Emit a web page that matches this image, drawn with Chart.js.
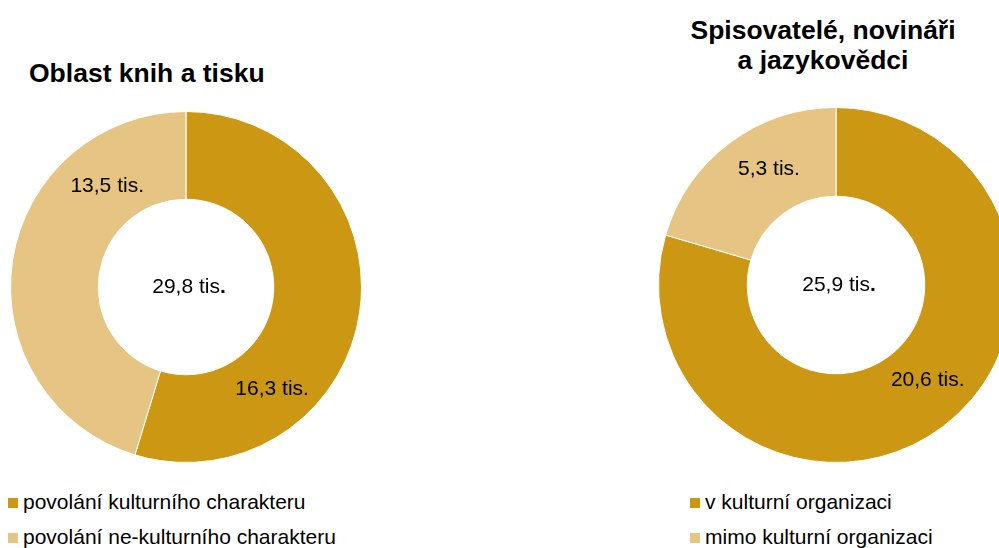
<!DOCTYPE html>
<html>
<head>
<meta charset="utf-8">
<script src="https://cdn.jsdelivr.net/npm/chart.js@4"></script>
<style>
  html, body { margin: 0; padding: 0; background: #fff; }
  body { width: 999px; height: 548px; overflow: hidden; position: relative; font-family: "Liberation Sans", Arial, sans-serif; color: #000; }
  .title { position: absolute; font-weight: bold; font-size: 26.5px; line-height: 30px; }
  #title-left { left: 29px; top: 58px; }
  #title-right { left: 643px; width: 360px; top: 15px; text-align: center; }
  .chart { position: absolute; }
  #chart-left { left: 10px; top: 111px; width: 352px; height: 352px; }
  #chart-right { left: 658px; top: 107px; width: 356px; height: 356px; }
  .legend { position: absolute; font-size: 21px; }
  .legend div { height: 35px; line-height: 35px; white-space: nowrap; }
  .legend span { display: inline-block; width: 10px; height: 10px; margin-right: 5px; vertical-align: 1px; }
  #legend-left { left: 8px; top: 484px; }
  #legend-right { left: 690px; top: 484px; }
</style>
</head>
<body>
<div class="title" id="title-left">Oblast knih a tisku</div>
<div class="title" id="title-right">Spisovatelé, novináři<br>a jazykovědci</div>
<div class="chart" id="chart-left"><canvas id="left"></canvas></div>
<div class="chart" id="chart-right"><canvas id="right"></canvas></div>
<div class="legend" id="legend-left"></div>
<div class="legend" id="legend-right"></div>
<script>
// data
const leftCategories = ['povolání kulturního charakteru', 'povolání ne-kulturního charakteru'];
const leftValues = [16.3, 13.5];
const leftTotal = 29.8;

const rightCategories = ['v kulturní organizaci', 'mimo kulturní organizaci'];
const rightValues = [20.6, 5.3];
const rightTotal = 25.9;

const colors = ['#cc9813', '#e6c584'];

function fmt(v) {
    return v.toFixed(1).replace('.', ',');
}

// draws the value labels and the total in the hole
const donutLabels = {
    id: 'donutLabels',
    afterDatasetsDraw(chart, args, opts) {
        const ctx = chart.ctx;
        const meta = chart.getDatasetMeta(0);
        const arc = meta.data[0];
        const cx = arc.x, cy = arc.y;
        const values = chart.data.datasets[0].data;
        ctx.save();
        ctx.fillStyle = '#000';
        ctx.textBaseline = 'middle';
        ctx.textAlign = 'center';
        ctx.font = '21px "Liberation Sans", Arial, sans-serif';
        values.forEach(function(v, i) {
            const a = opts.angles[i] * Math.PI / 180;
            const r = opts.radii[i];
            ctx.fillText(fmt(v) + ' tis.', cx + Math.sin(a) * r, cy - Math.cos(a) * r);
        });
        // total, with a bold full stop
        const main = fmt(opts.total) + ' tis';
        const w1 = ctx.measureText(main).width;
        ctx.font = 'bold 21px "Liberation Sans", Arial, sans-serif';
        const w2 = ctx.measureText('.').width;
        const x0 = cx + 3 - (w1 + w2) / 2;
        ctx.textAlign = 'left';
        ctx.font = '21px "Liberation Sans", Arial, sans-serif';
        ctx.fillText(main, x0, cy);
        ctx.font = 'bold 21px "Liberation Sans", Arial, sans-serif';
        ctx.fillText('.', x0 + w1, cy);
        ctx.restore();
    }
};

function makeDonut(id, categories, values, total, angles, radii) {
    return new Chart(document.getElementById(id), {
        type: 'doughnut',
        data: {
            labels: categories,
            datasets: [{
                data: values,
                backgroundColor: colors,
                borderColor: '#fff',
                borderWidth: 1,
                hoverOffset: 0
            }]
        },
        options: {
            responsive: true,
            maintainAspectRatio: false,
            animation: false,
            cutout: '50%',
            layout: { padding: 0 },
            plugins: {
                legend: { display: false },
                tooltip: { enabled: false },
                donutLabels: { angles: angles, radii: radii, total: total }
            }
        },
        plugins: [donutLabels]
    });
}

function makeLegend(id, categories) {
    const el = document.getElementById(id);
    categories.forEach(function(c, i) {
        const row = document.createElement('div');
        const sw = document.createElement('span');
        sw.style.background = colors[i];
        row.appendChild(sw);
        row.appendChild(document.createTextNode(c));
        el.appendChild(row);
    });
}

makeDonut('left', leftCategories, leftValues, leftTotal, [140, 322], [134, 128]);
makeDonut('right', rightCategories, rightValues, rightTotal, [136, 330], [132, 134]);
makeLegend('legend-left', leftCategories);
makeLegend('legend-right', rightCategories);
</script>
</body>
</html>
